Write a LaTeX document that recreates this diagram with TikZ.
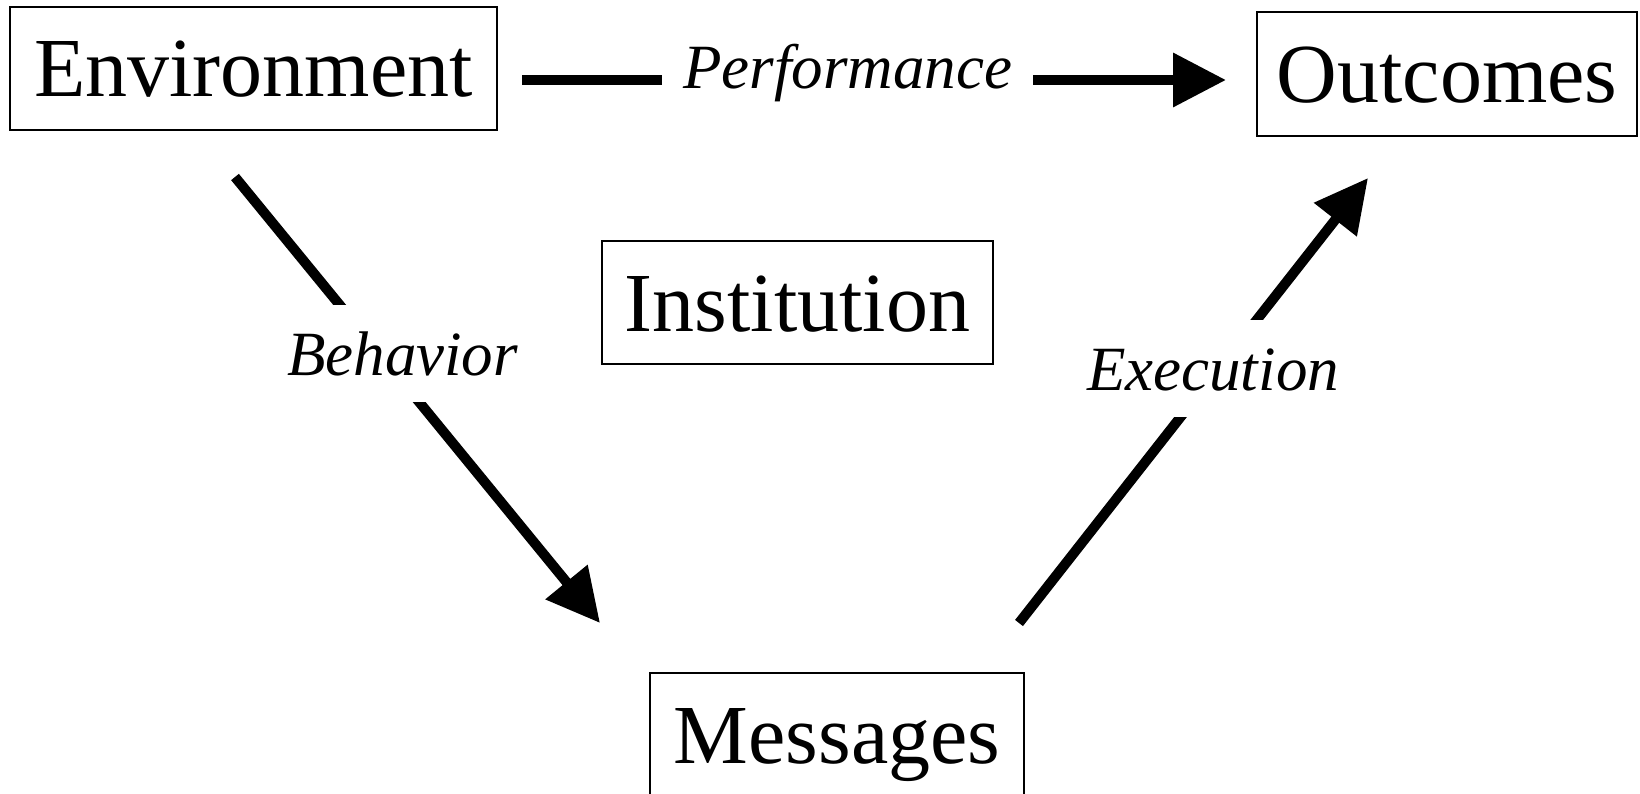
\documentclass[tikz,border=0pt]{standalone}
\usepackage{fontspec}
\setmainfont{Liberation Serif}
\usetikzlibrary{arrows.meta}
\begin{document}
\begin{tikzpicture}[x=1pt,y=-1pt,
  box/.style={draw, line width=2pt, inner sep=0pt, minimum height=123pt,
    font=\fontsize{84}{100}\selectfont, text height=57pt, text depth=0pt},
  lab/.style={fill=white, inner xsep=21pt, inner ysep=0pt, text height=70pt,
    text depth=27pt, font=\fontsize{63}{75}\selectfont\itshape, anchor=base},
  conn/.style={line width=10pt, -{Triangle[length=53pt,width=52pt]}}]
\useasboundingbox (0,0) rectangle (1640,794);
% boxes
\node[box, minimum width=487pt] (env) at (253.5,68.5) {Environment};
\node[box, minimum width=380pt, minimum height=124pt] (out) at (1447,74) {Outcomes};
\node[box, minimum width=391pt] (inst) at (797.5,302.5) {Institution};
\node[box, minimum width=374pt] (msg) at (837,734.5) {Messages};
% connector end points
\coordinate (ps) at (522,80);
\coordinate (pe) at (1226,80);
\coordinate (bs) at (235,177);
\coordinate (be) at (600,623);
\coordinate (es) at (1019,623);
\coordinate (ee) at (1368,178);
% connectors
\draw[conn] (ps) -- (pe);
\draw[conn] (bs) -- (be);
\draw[conn] (es) -- (ee);
% labels
\node[lab] (lperf) at (847.5,89) {Performance};
\node[lab] (lbeh) at (402.5,375) {Behavior};
\node[lab] (lexe) at (1213,390) {Execution};
\end{tikzpicture}
\end{document}
